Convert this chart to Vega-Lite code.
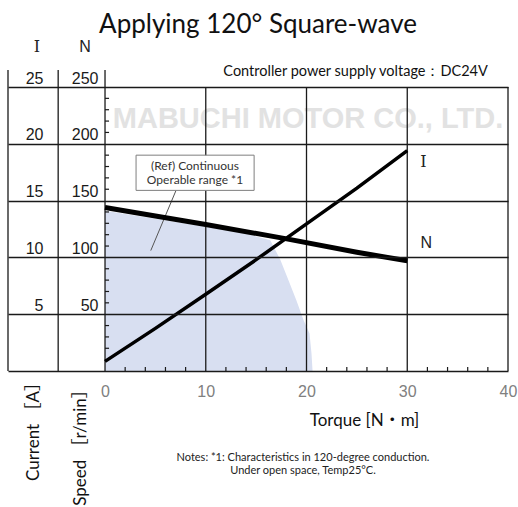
{
  "$schema": "https://vega.github.io/schema/vega-lite/v6.json",
  "width": 500,
  "height": 284,
  "autosize": {"type": "none"},
  "padding": {"left": 8, "top": 87, "right": 10, "bottom": 136},
  "background": "white",
  "title": {"text": "Applying 120° Square-wave", "font": "Lato", "fontSize": 26, "fontWeight": "normal", "color": "#111111", "anchor": "middle", "frame": "group", "baseline": "alphabetic", "offset": -20},
  "config": {"view": {"stroke": null}},
  "datasets": {
    "range": [
      {"torque": 0, "rpm": 141}, {"torque": 5, "rpm": 134}, {"torque": 10, "rpm": 127}, {"torque": 14, "rpm": 121},
      {"torque": 16.4, "rpm": 115}, {"torque": 17.4, "rpm": 98}, {"torque": 18.2, "rpm": 80}, {"torque": 19.0, "rpm": 62},
      {"torque": 19.7, "rpm": 45}, {"torque": 20.3, "rpm": 33}, {"torque": 20.5, "rpm": 15}, {"torque": 20.6, "rpm": 0}
    ],
    "speed": [
      {"torque": 0, "rpm": 144}, {"torque": 5, "rpm": 136.5}, {"torque": 10, "rpm": 129}, {"torque": 17.9, "rpm": 116.5},
      {"torque": 25, "rpm": 104.5}, {"torque": 30, "rpm": 97}
    ],
    "current": [
      {"torque": 0, "current": 0.85}, {"torque": 5, "current": 3.75}, {"torque": 10, "current": 6.75}, {"torque": 15, "current": 9.8},
      {"torque": 20, "current": 12.95}, {"torque": 25, "current": 16.1}, {"torque": 30, "current": 19.4}
    ],
    "tableLines": [{"torque": -9.63}, {"torque": -4.65}, {"torque": 0}],
    "gridLines": [{"torque": 10}, {"torque": 20}, {"torque": 30}, {"torque": 40}],
    "minorTorque": [
      {"torque": 2}, {"torque": 4}, {"torque": 6}, {"torque": 8}, {"torque": 12}, {"torque": 14}, {"torque": 16}, {"torque": 18},
      {"torque": 22}, {"torque": 24}, {"torque": 26}, {"torque": 28}, {"torque": 32}, {"torque": 34}, {"torque": 36}, {"torque": 38}
    ],
    "minorSpeed": [
      {"rpm": 10}, {"rpm": 20}, {"rpm": 30}, {"rpm": 40}, {"rpm": 60}, {"rpm": 70}, {"rpm": 80}, {"rpm": 90},
      {"rpm": 110}, {"rpm": 120}, {"rpm": 130}, {"rpm": 140}, {"rpm": 160}, {"rpm": 170}, {"rpm": 180}, {"rpm": 190},
      {"rpm": 210}, {"rpm": 220}, {"rpm": 230}, {"rpm": 240}
    ]
  },
  "layer": [
    {
      "layer": [
        {
          "data": {"name": "range"},
          "mark": {"type": "area", "color": "#d8dff1", "opacity": 1},
          "encoding": {
            "x": {"field": "torque", "type": "quantitative", "scale": {"domain": [-9.63, 40], "nice": false, "zero": false},
              "axis": {
                "values": [0, 10, 20, 30, 40],
                "labelOverlap": false, "labelFlush": false,
                "domain": true, "domainColor": "#1a1a1a", "domainWidth": 1.3,
                "ticks": false, "grid": false,
                "labelFont": "Liberation Sans", "labelFontSize": 16, "labelColor": "#808080", "labelPadding": 12,
                "title": "Torque [N・m]", "titleFont": "Lato, Noto Sans CJK JP", "titleFontSize": 17, "titleFontWeight": "normal", "titleColor": "#111111",
                "titleX": 356, "titleY": 49, "titleAlign": "center", "titleBaseline": "middle",
                "zindex": 1
              }},
            "y": {"field": "rpm", "type": "quantitative", "scale": {"domain": [0, 250], "nice": false, "zero": false},
              "axis": {
                "orient": "left", "offset": -97,
                "values": [50, 100, 150, 200, 250],
                "labelOverlap": false, "labelFlush": false,
                "domain": false, "ticks": false,
                "grid": true, "gridColor": "#1a1a1a", "gridWidth": 1.3,
                "labelFont": "Liberation Sans", "labelFontSize": 16, "labelColor": "#1a1a1a", "labelBaseline": "bottom", "labelPadding": 7, "labelOffset": -1,
                "title": "Speed ［r/min］", "titleFont": "Lato, Noto Sans CJK JP", "titleFontSize": 17, "titleFontWeight": "normal", "titleColor": "#111111",
                "titleAngle": -90, "titleX": -25, "titleY": 356, "titleAlign": "center", "titleBaseline": "middle",
                "zindex": 1
              }}
          }
        },
        {
          "data": {"values": [{"label": "MABUCHI MOTOR CO., LTD."}]},
          "mark": {"type": "text", "font": "Liberation Sans", "fontSize": 29, "fontWeight": "bold", "color": "#e2e2e2", "align": "center", "baseline": "middle"},
          "encoding": {"x": {"datum": 20.15}, "y": {"datum": 221.6}, "text": {"field": "label"}}
        },
        {
          "data": {"name": "tableLines"},
          "mark": {"type": "rule", "color": "#1a1a1a", "strokeWidth": 1.3},
          "encoding": {"x": {"field": "torque", "type": "quantitative"}, "y": {"datum": 0}, "y2": {"datum": 265}}
        },
        {
          "data": {"name": "gridLines"},
          "mark": {"type": "rule", "color": "#1a1a1a", "strokeWidth": 1.3},
          "encoding": {"x": {"field": "torque", "type": "quantitative"}, "y": {"datum": 0}, "y2": {"datum": 250}}
        },
        {
          "data": {"name": "minorTorque"},
          "mark": {"type": "rule", "color": "#1a1a1a", "strokeWidth": 1.2},
          "encoding": {"x": {"field": "torque", "type": "quantitative"}, "y": {"datum": 0}, "y2": {"datum": 3.5}}
        },
        {
          "data": {"name": "minorSpeed"},
          "mark": {"type": "rule", "color": "#1a1a1a", "strokeWidth": 1.2},
          "encoding": {"x": {"datum": 0}, "x2": {"datum": 0.4}, "y": {"field": "rpm", "type": "quantitative"}}
        },
        {
          "data": {"values": [{"label": "pointer"}]},
          "mark": {"type": "rule", "color": "#555555", "strokeWidth": 1},
          "encoding": {"x": {"datum": 7.05}, "y": {"datum": 159}, "x2": {"datum": 4.54}, "y2": {"datum": 106}}
        },
        {
          "data": {"values": [{"label": "box"}]},
          "mark": {"type": "rect", "fill": "white", "stroke": "#7f7f7f", "strokeWidth": 1},
          "encoding": {"x": {"datum": 3.08}, "x2": {"datum": 14.8}, "y": {"datum": 159}, "y2": {"datum": 190}}
        },
        {
          "data": {"values": [{"label": ["(Ref) Continuous", "Operable range *1"]}]},
          "mark": {"type": "text", "font": "Lato", "fontSize": 12, "color": "#333333", "align": "center", "baseline": "middle", "lineHeight": 13.5},
          "encoding": {"x": {"datum": 8.93}, "y": {"datum": 180.2}, "text": {"field": "label"}}
        },
        {
          "data": {"name": "speed"},
          "mark": {"type": "line", "color": "#000000", "strokeWidth": 5},
          "encoding": {"x": {"field": "torque", "type": "quantitative"}, "y": {"field": "rpm", "type": "quantitative"}}
        },
        {
          "data": {"values": [{"label": "I"}]},
          "mark": {"type": "text", "font": "DejaVu Serif", "fontSize": 16, "color": "#222222", "align": "center", "baseline": "middle"},
          "encoding": {"x": {"datum": 31.6}, "y": {"datum": 184}, "text": {"field": "label"}}
        },
        {
          "data": {"values": [{"label": "N"}]},
          "mark": {"type": "text", "font": "Liberation Sans", "fontSize": 16, "color": "#222222", "align": "center", "baseline": "middle"},
          "encoding": {"x": {"datum": 31.9}, "y": {"datum": 112.7}, "text": {"field": "label"}}
        },
        {
          "data": {"values": [{"label": "I"}]},
          "mark": {"type": "text", "font": "DejaVu Serif", "fontSize": 16, "color": "#222222", "align": "center", "baseline": "middle"},
          "encoding": {"x": {"datum": -6.75}, "y": {"datum": 285}, "text": {"field": "label"}}
        },
        {
          "data": {"values": [{"label": "N"}]},
          "mark": {"type": "text", "font": "Liberation Sans", "fontSize": 16, "color": "#222222", "align": "center", "baseline": "middle"},
          "encoding": {"x": {"datum": -1.99}, "y": {"datum": 285}, "text": {"field": "label"}}
        },
        {
          "data": {"values": [{"label": "Controller power supply voltage：DC24V"}]},
          "mark": {"type": "text", "font": "Lato", "fontSize": 14.5, "color": "#111111", "align": "right", "baseline": "middle"},
          "encoding": {"x": {"datum": 38.0}, "y": {"datum": 263}, "text": {"field": "label"}}
        },
        {
          "data": {"values": [{"label": ["Notes: *1: Characteristics in 120-degree conduction.", "Under open space, Temp25°C."]}]},
          "mark": {"type": "text", "font": "Lato", "fontSize": 11, "color": "#222222", "align": "center", "baseline": "middle", "lineHeight": 12.5},
          "encoding": {"x": {"datum": 19.65}, "y": {"datum": -77}, "text": {"field": "label"}}
        }
      ]
    },
    {
      "data": {"name": "current"},
      "mark": {"type": "line", "color": "#000000", "strokeWidth": 3.5},
      "encoding": {
        "x": {"field": "torque", "type": "quantitative"},
        "y": {"field": "current", "type": "quantitative", "scale": {"domain": [0, 25], "nice": false, "zero": false},
          "axis": {
            "orient": "left", "offset": -36,
            "values": [5, 10, 15, 20, 25],
            "labelOverlap": false, "labelFlush": false,
            "domain": false, "ticks": false, "grid": false,
            "labelFont": "Liberation Sans", "labelFontSize": 16, "labelColor": "#1a1a1a", "labelBaseline": "bottom", "labelPadding": 1, "labelOffset": -1,
            "title": "Current ［A］", "titleFont": "Lato, Noto Sans CJK JP", "titleFontSize": 17, "titleFontWeight": "normal", "titleColor": "#111111",
            "titleAngle": -90, "titleX": -11, "titleY": 340, "titleAlign": "center", "titleBaseline": "middle"
          }}
      }
    }
  ],
  "resolve": {"scale": {"y": "independent"}, "axis": {"y": "independent"}}
}
